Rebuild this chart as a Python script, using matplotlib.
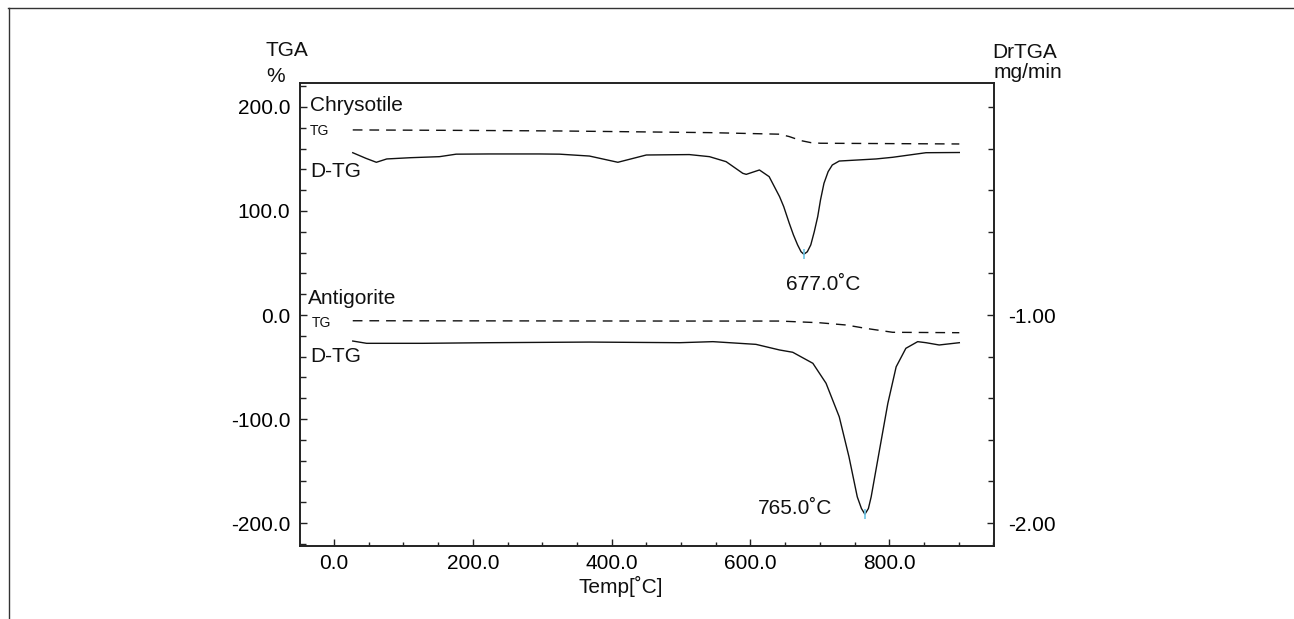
import matplotlib
matplotlib.use("Agg")
import matplotlib.pyplot as plt
from matplotlib.lines import Line2D
from matplotlib.ticker import MultipleLocator, FormatStrFormatter

plt.rcParams['font.family'] = ['Liberation Sans', 'DejaVu Sans']
plt.rcParams['axes.unicode_minus'] = False

# ---------------- data ----------------
# Chrysotile
chr_tg_T = [27, 200, 325, 541, 642, 656, 673, 687, 701, 901]
chr_tg_v = [177.9, 177.4, 176.9, 175.3, 173.8, 171.5, 167.6, 165.7, 165.1, 164.4]

chr_dtg_T = [27, 46, 61, 76, 110, 152, 176, 224, 296, 325, 368, 409, 450, 512, 541,
             565, 589, 594, 613, 627, 642, 648, 656, 662, 668, 673, 677, 682, 687,
             692, 697, 701, 706, 712, 718, 728, 781, 805, 853, 901]
chr_dtg_v = [-0.220, -0.247, -0.266, -0.250, -0.244, -0.239, -0.227, -0.226, -0.226,
             -0.227, -0.236, -0.266, -0.231, -0.229, -0.239, -0.263, -0.319, -0.324,
             -0.303, -0.335, -0.431, -0.479, -0.559, -0.615, -0.663, -0.696, -0.708,
             -0.696, -0.663, -0.600, -0.527, -0.447, -0.367, -0.311, -0.279, -0.260,
             -0.250, -0.242, -0.220, -0.219]

# Antigorite
ant_tg_T = [27, 500, 642, 699, 738, 766, 805, 901]
ant_tg_v = [-5.5, -5.8, -5.8, -7.4, -9.6, -12.8, -16.6, -17.0]

ant_dtg_T = [27, 47, 128, 224, 368, 498, 546, 608, 642, 661, 690, 709, 728, 742, 754,
             760, 765, 770, 774, 786, 798, 810, 824, 841, 853, 872, 901]
ant_dtg_v = [-1.125, -1.136, -1.136, -1.133, -1.130, -1.133, -1.128, -1.141, -1.168,
             -1.179, -1.232, -1.328, -1.489, -1.681, -1.874, -1.930, -1.957, -1.930,
             -1.874, -1.649, -1.425, -1.249, -1.160, -1.128, -1.133, -1.144, -1.133]

peak_T = [677.0, 765.0]
peak_v = [-0.708, -1.957]
peak_labels = ["677.0˚C", "765.0˚C"]

x_ticks = [0, 200, 400, 600, 800]
left_ticks = [-200, -100, 0, 100, 200]
right_ticks = [-2.0, -1.0]

# ---------------- figure ----------------
W, H = 1294, 619
fig = plt.figure(figsize=(W / 100, H / 100), dpi=100)
L, R, T, B = 300, 994, 83, 546
ax = fig.add_axes([L / W, 1 - B / H, (R - L) / W, (B - T) / H])
ax2 = ax.twinx()

ax.set_xlim(-49, 951)
ax.set_ylim(-222, 223)
ax2.set_ylim(-1 + (-222) / 200, -1 + 223 / 200)

ax.set_zorder(2)
ax.patch.set_visible(False)

lc = '#111111'
ax.plot(chr_tg_T, chr_tg_v, color=lc, lw=1.0, dashes=(7, 5))
ax.plot(ant_tg_T, ant_tg_v, color=lc, lw=1.0, dashes=(7, 5))
ax2.plot(chr_dtg_T, chr_dtg_v, color=lc, lw=1.0)
ax2.plot(ant_dtg_T, ant_dtg_v, color=lc, lw=1.0)
ax2.plot(peak_T, peak_v, linestyle='none', marker='|', markersize=7,
         markeredgewidth=1.2, color='#6cc6e8')

# ticks
fs = 15
ax.xaxis.set_major_locator(plt.FixedLocator(x_ticks))
ax.xaxis.set_minor_locator(MultipleLocator(50))
ax.xaxis.set_major_formatter(FormatStrFormatter('%.1f'))
ax.yaxis.set_major_locator(plt.FixedLocator(left_ticks))
ax.yaxis.set_minor_locator(MultipleLocator(20))
ax.yaxis.set_major_formatter(FormatStrFormatter('%.1f'))
ax2.yaxis.set_major_locator(plt.FixedLocator(right_ticks))
ax2.yaxis.set_minor_locator(MultipleLocator(0.2))
ax2.yaxis.set_major_formatter(FormatStrFormatter('%.2f'))

ax.tick_params(axis='both', which='both', direction='in', labelsize=fs,
               right=False, top=False, width=1.0, color='#222222')
ax.tick_params(axis='both', which='major', length=5)
ax.tick_params(axis='both', which='minor', length=4)
ax.tick_params(axis='x', which='minor', length=3)
ax.tick_params(axis='y', pad=7)
ax.tick_params(axis='x', pad=6)
ax2.tick_params(axis='y', which='both', direction='in', labelsize=fs, width=1.0,
                color='#222222', pad=10)
ax2.tick_params(axis='y', which='major', length=5)
ax2.tick_params(axis='y', which='minor', length=4)

for a in (ax, ax2):
    for s in a.spines.values():
        s.set_linewidth(1.2)
        s.set_color('#222222')

def ftext(x, y, s, size=fs, ha='left', va='center'):
    fig.text(x / W, 1 - y / H, s, fontsize=size, ha=ha, va=va, color='#111111')

# axis titles
ftext(266, 51, "TGA")
ftext(266, 77, "%")
ftext(992, 52, "DrTGA")
ftext(994, 72, "mg/min")
ftext(621, 586, "Temp[˚C]", ha='center')

# in-plot labels
ftext(310, 105.5, "Chrysotile")
ftext(310, 131, "TG", size=10)
ftext(310, 171.5, "D-TG")
ftext(308, 299, "Antigorite")
ftext(312, 323, "TG", size=10)
ftext(310, 357, "D-TG")

# peak labels
ftext(823, 285, peak_labels[0], ha='center')
ftext(795, 509, peak_labels[1], ha='center')

# outer frame lines (top and left)
fig.add_artist(Line2D([8 / W, 1.0], [1 - 7.5 / H, 1 - 7.5 / H], color='#333333',
                      lw=1.0, transform=fig.transFigure))
fig.add_artist(Line2D([8.5 / W, 8.5 / W], [0.0, 1 - 7.5 / H], color='#333333',
                      lw=1.0, transform=fig.transFigure))

fig.savefig("out.png", dpi=100)
